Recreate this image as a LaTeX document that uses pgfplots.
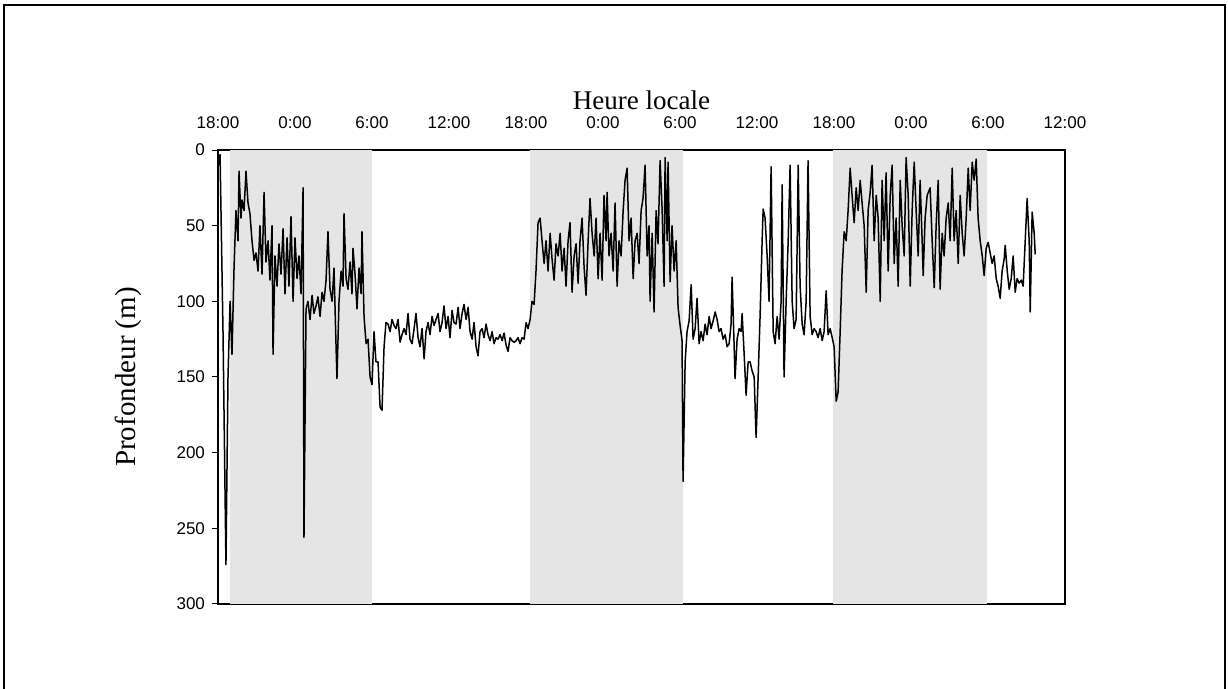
\documentclass[border=0pt]{standalone}
\usepackage{fontspec}
\setmainfont{Liberation Serif}
\setsansfont{Liberation Sans}
\usepackage{pgfplots}
\pgfplotsset{compat=1.18}
\usepackage{pgfplotstable}
\pgfplotstableread{
h d
0.08 10
0.16 3
0.39 120
0.62 274
0.78 150
0.94 100
1.09 135
1.25 78
1.40 40
1.56 60
1.64 14
1.79 45
1.87 33
2.03 40
2.18 14
2.34 35
2.49 42
2.65 60
2.81 73
2.96 68
3.12 80
3.27 50
3.43 82
3.59 28
3.74 74
3.90 60
4.05 86
4.21 50
4.29 135
4.44 70
4.60 90
4.75 62
4.91 82
5.07 52
5.22 95
5.38 58
5.53 90
5.69 44
5.85 100
6.00 58
6.16 85
6.31 70
6.47 95
6.63 25
6.70 256
6.86 105
7.01 100
7.17 112
7.33 96
7.48 108
7.64 103
7.79 97
7.95 110
8.11 94
8.26 100
8.42 86
8.57 54
8.73 92
8.89 100
9.04 78
9.20 130
9.27 151
9.43 100
9.59 80
9.74 90
9.82 42
9.98 85
10.13 92
10.29 74
10.44 95
10.52 65
10.68 82
10.83 105
10.99 78
11.15 95
11.22 54
11.38 110
11.54 128
11.69 125
11.85 150
12.00 155
12.16 120
12.31 140
12.47 140
12.63 170
12.78 172
12.94 130
13.09 114
13.25 115
13.41 120
13.56 112
13.72 116
13.87 118
14.03 112
14.19 127
14.34 122
14.50 118
14.65 122
14.81 108
14.96 125
15.12 128
15.28 118
15.43 108
15.59 124
15.74 130
15.90 118
16.06 138
16.21 120
16.37 114
16.52 122
16.68 110
16.84 116
16.99 112
17.15 108
17.30 120
17.46 114
17.61 103
17.77 118
17.93 110
18.08 124
18.24 106
18.39 114
18.55 115
18.71 104
18.86 118
19.02 108
19.17 102
19.33 112
19.49 104
19.64 120
19.80 125
19.95 114
20.11 130
20.26 136
20.42 120
20.58 118
20.73 124
20.89 115
21.04 122
21.20 126
21.36 120
21.51 128
21.67 124
21.82 125
21.98 122
22.14 126
22.29 121
22.45 129
22.60 133
22.76 124
22.91 126
23.07 127
23.23 126
23.38 124
23.54 128
23.69 124
23.85 125
24.01 114
24.16 118
24.32 112
24.47 100
24.63 102
24.78 80
24.94 48
25.10 45
25.25 60
25.41 75
25.56 60
25.72 80
25.88 55
26.03 72
26.19 86
26.34 62
26.50 70
26.66 55
26.81 80
26.97 65
27.12 90
27.28 60
27.43 48
27.59 94
27.75 70
27.90 62
28.06 88
28.21 60
28.37 45
28.53 78
28.68 96
28.84 60
28.99 32
29.15 55
29.31 70
29.46 45
29.62 85
29.77 55
29.93 86
30.08 30
30.24 60
30.32 28
30.47 70
30.63 55
30.79 80
30.94 35
31.10 90
31.25 60
31.41 70
31.57 40
31.72 20
31.88 12
32.03 60
32.19 45
32.35 85
32.50 60
32.66 55
32.81 75
32.97 40
33.12 32
33.28 10
33.44 70
33.59 50
33.67 100
33.83 55
33.98 107
34.14 40
34.29 62
34.45 7
34.61 40
34.76 90
34.84 5
35.00 60
35.07 8
35.23 87
35.38 50
35.54 80
35.70 60
35.85 104
36.01 116
36.16 126
36.24 219
36.40 140
36.55 120
36.71 113
36.87 89
37.02 125
37.18 118
37.33 98
37.49 128
37.64 120
37.80 126
37.96 115
38.11 122
38.27 110
38.42 118
38.58 113
38.74 107
38.89 112
39.05 120
39.20 118
39.36 125
39.52 122
39.67 130
39.83 128
39.98 115
40.06 84
40.22 130
40.29 151
40.45 125
40.61 118
40.76 120
40.84 108
41.00 135
41.15 162
41.31 140
41.46 140
41.62 146
41.78 150
41.93 190
42.09 150
42.24 110
42.40 60
42.48 39
42.63 45
42.79 70
42.94 100
43.10 11
43.26 120
43.41 128
43.57 110
43.72 125
43.88 100
43.96 23
44.11 150
44.27 100
44.43 60
44.58 10
44.74 100
44.89 118
45.05 112
45.21 10
45.36 90
45.52 115
45.67 122
45.83 100
45.98 7
46.14 110
46.30 122
46.45 118
46.61 120
46.76 124
46.92 118
47.08 126
47.23 120
47.39 93
47.54 122
47.70 118
47.86 124
48.01 130
48.17 166
48.32 160
48.48 120
48.63 80
48.79 54
48.95 60
49.10 40
49.26 12
49.41 30
49.57 48
49.73 25
49.88 40
50.04 20
50.19 35
50.35 50
50.51 94
50.66 40
50.82 28
50.97 10
51.13 60
51.29 30
51.44 45
51.60 100
51.75 20
51.91 60
52.06 15
52.22 80
52.38 30
52.53 10
52.69 75
52.84 45
53.00 90
53.16 20
53.31 50
53.47 70
53.62 5
53.78 30
53.94 90
54.09 40
54.25 8
54.40 40
54.56 70
54.71 20
54.87 60
54.95 83
55.10 45
55.26 30
55.49 25
55.65 60
55.81 91
55.96 50
56.12 20
56.27 92
56.43 55
56.58 70
56.74 45
56.90 35
57.05 60
57.21 12
57.36 60
57.52 40
57.68 75
57.83 30
57.99 55
58.14 70
58.30 45
58.46 12
58.61 40
58.77 8
58.92 20
59.08 6
59.23 45
59.39 60
59.55 70
59.70 83
59.86 65
60.01 61
60.17 68
60.32 75
60.48 70
60.64 85
60.79 90
60.95 98
61.10 80
61.26 72
61.34 63
61.50 80
61.65 92
61.81 85
61.96 70
62.12 94
62.27 85
62.43 88
62.59 86
62.74 90
62.90 60
63.05 32
63.21 60
63.29 107
63.44 41
63.60 55
63.68 69
}\depthdata
\begin{document}
\begin{tikzpicture}
\useasboundingbox (0,0) rectangle (614pt,344.5pt);
\draw[line width=0.6pt] (2pt,0) -- (2pt,342pt) -- (612.5pt,342pt) -- (612.5pt,0);
\begin{axis}[
  at={(109pt,42.5pt)}, anchor=south west,
  width=423.5pt, height=227pt, scale only axis,
  xmin=0, xmax=66, ymin=0, ymax=300, y dir=reverse,
  xtick={0,6,...,66},
  xticklabels={18:00,0:00,6:00,12:00,18:00,0:00,6:00,12:00,18:00,0:00,6:00,12:00},
  xticklabel pos=upper,
  xtick style={draw=none},
  ytick={0,50,...,300},
  ytick pos=left,
  tick align=outside,
  major tick length=3pt,
  ytick style={black, line width=0.5pt},
  axis line style={line width=0.6pt},
  ticklabel style={font=\sffamily\fontsize{8.5}{10}\selectfont},
  /pgf/number format/assume math mode=true,
  xticklabel style={yshift=4pt},
  title={Heure locale},
  title style={at={(axis description cs:0.5,1)}, anchor=center, yshift=19pt, font=\fontsize{13.5}{15}\selectfont},
  ylabel={Profondeur (m)},
  every axis y label/.style={at={(axis description cs:-0.106,0.5)}, rotate=90, anchor=center, font=\fontsize{14.5}{16}\selectfont},
]
\addplot[fill=black!10, draw=none, forget plot] coordinates {(0.9,0) (12,0) (12,300) (0.9,300)} -- cycle;
\addplot[fill=black!10, draw=none, forget plot] coordinates {(24.3,0) (36.2,0) (36.2,300) (24.3,300)} -- cycle;
\addplot[fill=black!10, draw=none, forget plot] coordinates {(47.9,0) (59.9,0) (59.9,300) (47.9,300)} -- cycle;
\addplot[black, line width=0.75pt, line join=round] table[x=h, y=d] {\depthdata};
\end{axis}
\end{tikzpicture}
\end{document}
